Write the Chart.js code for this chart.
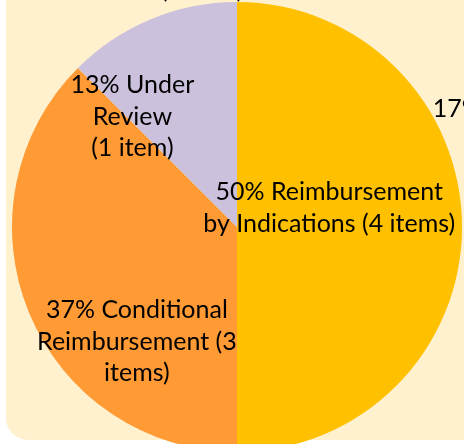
<!DOCTYPE html>
<html>
<head>
<meta charset="utf-8">
<script src="https://cdn.jsdelivr.net/npm/chart.js@4"></script>
<style>
  html, body { margin: 0; padding: 0; background: #fff; overflow: hidden; }
  #wrap { position: relative; width: 464px; height: 444px; overflow: hidden; }
  #panel {
    position: absolute; left: 6px; top: -30px; width: 500px; height: 470px;
    background: #FFF0CE; border-radius: 22px;
  }
  #pie { position: absolute; left: 0; top: 0; }
</style>
</head>
<body>
<div id="wrap">
  <div id="panel"></div>
  <canvas id="pie" width="480" height="470"></canvas>
</div>
<script>
// dati del grafico
const categories = ['Reimbursement by Indications', 'Conditional Reimbursement', 'Under Review'];
const itemCounts = [4, 3, 1];
const percentLabels = ['50%', '37%', '13%'];
const sliceColors = ['#FFC000', '#FF9A35', '#CCC1DC'];

// testo delle etichette, spezzato come nell'originale
const labelLines = [
  ['50% Reimbursement', 'by Indications (4 items)'],
  ['37% Conditional', 'Reimbursement (3', 'items)'],
  ['13% Under', 'Review', '(1 item)']
];
// testi tagliati ai bordi (da un altro grafico accanto)
const edgeTexts = ['17%', '(1 item)'];

const FONT = '25px Lato, "Open Sans", sans-serif';

const sliceLabels = {
  id: 'sliceLabels',
  afterDatasetsDraw(chart, args, opts) {
    const ctx = chart.ctx;
    const arcs = chart.getDatasetMeta(0).data;
    ctx.save();
    ctx.font = FONT;
    ctx.fillStyle = '#000';
    ctx.textAlign = 'center';
    ctx.textBaseline = 'middle';
    arcs.forEach((arc, i) => {
      const r = arc.outerRadius;
      const pos = opts.anchors[i];
      const cx = arc.x + pos.dx * r;
      const cy = arc.y + pos.dy * r;
      const lines = labelLines[i];
      const lh = opts.lineHeight;
      lines.forEach((t, k) => {
        ctx.fillText(t, cx, cy + (k - (lines.length - 1) / 2) * lh);
      });
    });
    // testi di bordo
    const a = arcs[0];
    ctx.textAlign = 'left';
    ctx.textBaseline = 'alphabetic';
    ctx.fillText(edgeTexts[0], a.x + 0.87 * a.outerRadius, 117);
    ctx.textAlign = 'center';
    ctx.fillText(edgeTexts[1], 202, -2);
    ctx.restore();
  }
};

new Chart(document.getElementById('pie'), {
  type: 'pie',
  data: {
    labels: categories,
    datasets: [{
      data: itemCounts,
      backgroundColor: sliceColors,
      borderWidth: 0,
      hoverOffset: 0
    }]
  },
  options: {
    responsive: false,
    animation: false,
    layout: { padding: { left: 12, top: 2, right: 18, bottom: 18 } },
    plugins: {
      legend: { display: false },
      tooltip: { enabled: false },
      sliceLabels: {
        lineHeight: 31.5,
        anchors: [
          { dx: 0.41, dy: -0.085 },
          { dx: -0.445, dy: 0.51 },
          { dx: -0.465, dy: -0.49 }
        ]
      }
    }
  },
  plugins: [sliceLabels]
});
</script>
</body>
</html>
